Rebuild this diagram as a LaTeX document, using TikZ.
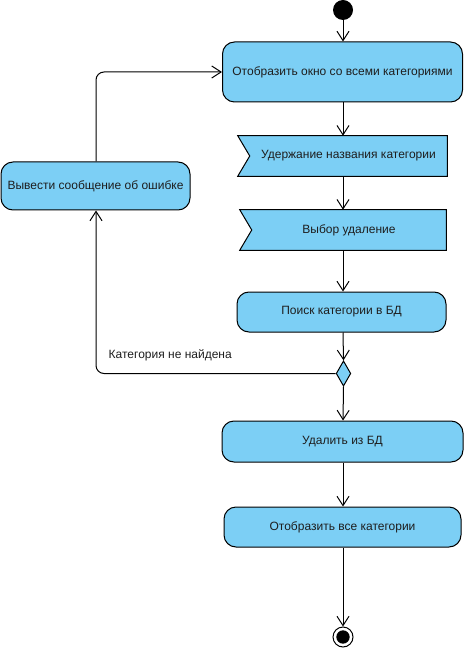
\documentclass[tikz,border=0pt]{standalone}
\usepackage{fontspec}
\setmainfont{Liberation Sans}
\usetikzlibrary{arrows.meta,shapes.geometric,backgrounds,calc}
\definecolor{boxblue}{RGB}{124,207,245}
\definecolor{txt}{RGB}{30,30,30}
\tikzset{
  every node/.style={font=\fontsize{9}{11}\selectfont, text=txt},
  act/.style={draw, line width=0.75pt, fill=boxblue, rounded corners=9pt, minimum height=30pt},
  sigbox/.style={minimum height=30pt, inner sep=0pt},
  sigpath/.style={draw, line width=0.75pt, fill=boxblue},
  arr/.style={line width=0.75pt, -{Straight Barb[length=7pt,width=9pt]}},
  dec/.style={draw, line width=0.75pt, fill=boxblue, diamond, inner sep=0pt, minimum width=11pt, minimum height=19pt},
}
\begin{document}
\begin{tikzpicture}[x=0.75pt,y=-0.75pt]
\useasboundingbox (0,0) rectangle (465,648);
\node[circle, fill=black, inner sep=0pt, minimum size=15pt] (start) at (343,10) {};
\node[act, minimum width=180pt, minimum height=45pt] (b1) at (342.5,72) {Отобразить окно со всеми категориями};
\node[sigbox, minimum width=156.75pt] (b2) at (342.5,156) {\hspace*{9pt}Удержание названия категории};
\node[sigbox, minimum width=154.5pt] (b3) at (343,230) {\hspace*{9pt}Выбор удаление};
\begin{scope}[on background layer]
\draw[sigpath] (b2.north west) -- (b2.north east) -- (b2.south east) -- (b2.south west) -- ($(b2.west)+(12,0)$) -- cycle;
\draw[sigpath] (b3.north west) -- (b3.north east) -- (b3.south east) -- (b3.south west) -- ($(b3.west)+(12,0)$) -- cycle;
\end{scope}
\node[act, minimum width=156.75pt] (b4) at (341.5,312) {Поиск категории в БД};
\node[dec] (dia) at (343.5,373.5) {};
\node[act, minimum width=180.75pt, minimum height=30.75pt] (b5) at (342.5,441.5) {Удалить из БД};
\node[act, minimum width=177.75pt] (b6) at (342.5,527) {Отобразить все категории};
\node[circle, draw, line width=0.75pt, fill=white, inner sep=0pt, minimum size=15pt] (end) at (343,637) {};
\node[circle, fill=black, inner sep=0pt, minimum size=10pt] (endin) at (343,637) {};
\node[act, minimum width=141.75pt, minimum height=36pt] (err) at (95.5,186) {Вывести сообщение об ошибке};
\node[anchor=west] (lbl) at (104,355) {Категория не найдена};

\draw[arr] (start) -- (start |- b1.north);
\draw[arr] (b1.south -| 343,0) -- (343,0 |- b2.north);
\draw[arr] (343,0 |- b2.south) -- (b3.north);
\draw[arr] (b3.south) -- (343,0 |- b4.north);
\draw[arr] (343,0 |- b4.south) -- (dia.north);
\draw[arr] (dia.south) -- (343,0 |- b5.north);
\draw[arr] (343,0 |- b5.south) -- (343,0 |- b6.north);
\draw[arr] (343,0 |- b6.south) -- (end.north);
\draw[arr, rounded corners=6pt] (dia.west) -| (96,0 |- err.south);
\draw[arr, rounded corners=6pt] (96,0 |- err.north) |- (b1.west);
\end{tikzpicture}
\end{document}
